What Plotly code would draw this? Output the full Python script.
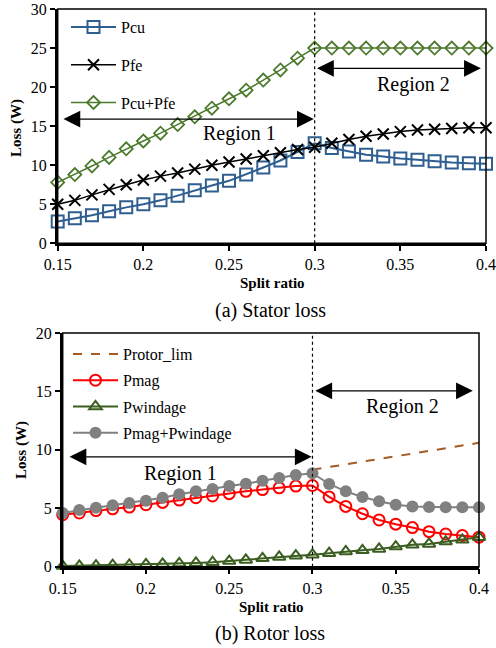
import plotly.graph_objects as go

# ---------------- data ----------------
split_ratio = [0.15, 0.16, 0.17, 0.18, 0.19, 0.20, 0.21, 0.22, 0.23, 0.24, 0.25, 0.26, 0.27,
               0.28, 0.29, 0.30, 0.31, 0.32, 0.33, 0.34, 0.35, 0.36, 0.37, 0.38, 0.39, 0.40]

# (a) stator loss
pcu = [2.8, 3.2, 3.6, 4.1, 4.6, 5.0, 5.5, 6.1, 6.8, 7.4, 8.0, 8.8, 9.7,
       10.6, 11.7, 12.8, 12.2, 11.75, 11.35, 11.1, 10.85, 10.7, 10.5, 10.35, 10.25, 10.2]
pfe = [5.0, 5.5, 6.2, 6.9, 7.5, 8.1, 8.6, 9.0, 9.5, 10.0, 10.4, 10.8, 11.2,
       11.6, 12.0, 12.3, 12.8, 13.3, 13.7, 14.0, 14.3, 14.5, 14.6, 14.7, 14.8, 14.8]
pcu_pfe = [7.8, 8.8, 9.9, 11.0, 12.1, 13.1, 14.1, 15.2, 16.2, 17.3, 18.5, 19.6, 20.9,
           22.2, 23.7, 25.0, 25.0, 25.0, 25.0, 25.0, 25.0, 25.0, 25.0, 25.0, 25.0, 25.0]

# (b) rotor loss
pmag = [4.45, 4.6, 4.8, 4.95, 5.1, 5.3, 5.5, 5.7, 5.9, 6.05, 6.25, 6.45, 6.6,
        6.75, 6.9, 6.95, 5.97, 5.16, 4.53, 4.0, 3.64, 3.35, 3.0, 2.8, 2.67, 2.53]
pwindage = [0.05, 0.08, 0.1, 0.13, 0.16, 0.2, 0.24, 0.28, 0.32, 0.38, 0.48, 0.58, 0.72,
            0.84, 0.94, 1.03, 1.15, 1.3, 1.4, 1.52, 1.72, 1.87, 1.95, 2.15, 2.3, 2.53]
pmag_pwindage = [4.6, 4.85, 5.05, 5.25, 5.45, 5.65, 5.9, 6.2, 6.45, 6.65, 6.9, 7.1, 7.35,
                 7.6, 7.85, 8.0, 7.08, 6.45, 5.97, 5.6, 5.3, 5.16, 5.1, 5.08, 5.08, 5.08]
protor_x = [0.30, 0.35, 0.40]
protor_lim = [8.3, 9.45, 10.6]

x_ticks = [0.15, 0.2, 0.25, 0.3, 0.35, 0.4]
x_ticktext = ["0.15", "0.2", "0.25", "0.3", "0.35", "0.4"]
y1_ticks = [0, 5, 10, 15, 20, 25, 30]
y2_ticks = [0, 5, 10, 15, 20]

FONT = "Liberation Serif"
BLUE = "#2F5F90"
GREEN = "#4C7A2C"
RED = "#FF0000"
DKGREEN = "#3B5E20"
GRAY = "#808080"
BROWN = "#A65A24"

W, H = 496, 648
def px(v):
    return v / W
def py(v):
    return 1 - v / H

fig = go.Figure()

# ---- top chart ----
fig.add_trace(go.Scatter(x=split_ratio, y=pcu, name="Pcu", mode="lines+markers",
                         xaxis="x", yaxis="y", legend="legend", legendgroup="a1", cliponaxis=False,
                         line=dict(color=BLUE, width=2),
                         marker=dict(symbol="square-open", size=12, color=BLUE, line=dict(width=2))))
fig.add_trace(go.Scatter(x=split_ratio, y=pfe, name="Pfe", mode="lines+markers",
                         xaxis="x", yaxis="y", legend="legend", legendgroup="a2", cliponaxis=False,
                         line=dict(color="black", width=1.5),
                         marker=dict(symbol="x-thin-open", size=11, color="black", line=dict(width=2, color="black"))))
fig.add_trace(go.Scatter(x=split_ratio, y=pcu_pfe, name="Pcu+Pfe", mode="lines+markers",
                         xaxis="x", yaxis="y", legend="legend", legendgroup="a3", cliponaxis=False,
                         line=dict(color=GREEN, width=1.5),
                         marker=dict(symbol="diamond-open", size=10, color=GREEN, line=dict(width=1.8))))

# ---- bottom chart ----
fig.add_trace(go.Scatter(x=protor_x, y=protor_lim, name="Protor_lim", mode="lines",
                         xaxis="x2", yaxis="y2", legend="legend2", legendgroup="b1", cliponaxis=False,
                         line=dict(color=BROWN, width=2, dash="dash")))
fig.add_trace(go.Scatter(x=split_ratio, y=pmag, name="Pmag", mode="lines+markers",
                         xaxis="x2", yaxis="y2", legend="legend2", legendgroup="b2", cliponaxis=False,
                         line=dict(color=RED, width=2),
                         marker=dict(symbol="circle-open", size=11, color=RED, line=dict(width=2))))
fig.add_trace(go.Scatter(x=split_ratio, y=pwindage, name="Pwindage", mode="lines+markers",
                         xaxis="x2", yaxis="y2", legend="legend2", legendgroup="b3", cliponaxis=False,
                         line=dict(color=DKGREEN, width=2),
                         marker=dict(symbol="triangle-up-open", size=11, color=DKGREEN, line=dict(width=2))))
fig.add_trace(go.Scatter(x=split_ratio, y=pmag_pwindage, name="Pmag+Pwindage", mode="lines+markers",
                         xaxis="x2", yaxis="y2", legend="legend2", legendgroup="b4", cliponaxis=False,
                         line=dict(color=GRAY, width=2),
                         marker=dict(symbol="circle", size=12, color=GRAY)))

axis_common = dict(showgrid=False, zeroline=False, showline=True, linecolor="black", linewidth=2.5,
                   ticks="outside", ticklen=5, tickwidth=1.5, tickcolor="black", automargin=False,
                   ticklabeloverflow="allow",
                   tickfont=dict(family=FONT, size=16, color="black"))

fig.update_layout(
    width=W, height=H,
    margin=dict(l=0, r=0, t=0, b=0, autoexpand=False),
    paper_bgcolor="white", plot_bgcolor="white",
    font=dict(family=FONT, color="black"),
    xaxis=dict(domain=[px(57.7), px(486)], anchor="y", range=[0.15, 0.4],
               tickvals=x_ticks, ticktext=x_ticktext, **axis_common),
    yaxis=dict(domain=[py(243.3), py(9)], anchor="x", range=[0, 30],
               tickvals=y1_ticks, **axis_common),
    xaxis2=dict(domain=[px(62.7), px(479)], anchor="y2", range=[0.15, 0.4],
                tickvals=x_ticks, ticktext=x_ticktext, **axis_common),
    yaxis2=dict(domain=[py(566.7), py(333)], anchor="x2", range=[0, 20],
                tickvals=y2_ticks, **axis_common),
    legend=dict(x=px(66), y=py(10), xanchor="left", yanchor="top", bgcolor="rgba(0,0,0,0)",
                font=dict(family=FONT, size=16, color="black"), tracegroupgap=14, itemwidth=45),
    legend2=dict(x=px(68), y=py(337), xanchor="left", yanchor="top", bgcolor="rgba(0,0,0,0)",
                 font=dict(family=FONT, size=16, color="black"), tracegroupgap=2.5, itemwidth=45),
)

shapes = [
    dict(type="rect", xref="x domain", yref="y domain", x0=0, x1=1, y0=0, y1=1,
         line=dict(color="black", width=1.5), layer="above"),
    dict(type="rect", xref="x2 domain", yref="y2 domain", x0=0, x1=1, y0=0, y1=1,
         line=dict(color="black", width=1.5), layer="above"),
    dict(type="line", xref="x", yref="y", x0=0.3, x1=0.3, y0=0, y1=30,
         line=dict(color="black", width=1.2, dash="dot")),
    dict(type="line", xref="x2", yref="y2", x0=0.3, x1=0.3, y0=0, y1=20,
         line=dict(color="black", width=1.2, dash="dot")),
]
fig.update_layout(shapes=shapes)

def arrow(xr, yr, x0, x1, y):
    return dict(xref=xr, yref=yr, axref=xr, ayref=yr, x=x1, y=y, ax=x0, ay=y, text="",
                showarrow=True, arrowside="end+start", arrowhead=2, startarrowhead=2,
                arrowsize=2.4, startarrowsize=2.4, arrowwidth=1.4, arrowcolor="black")

def label(xr, yr, x, y, t):
    return dict(xref=xr, yref=yr, x=x, y=y, text=t, showarrow=False,
                font=dict(family=FONT, size=20, color="black"), xanchor="center", yanchor="middle")

annotations = [
    arrow("x", "y", 0.1525, 0.2995, 15.9),
    arrow("x", "y", 0.3005, 0.397, 22.4),
    label("x", "y", 0.256, 14.0, "Region 1"),
    label("x", "y", 0.3577, 20.35, "Region 2"),
    arrow("x2", "y2", 0.1532, 0.2995, 9.4),
    arrow("x2", "y2", 0.3008, 0.3963, 15.05),
    label("x2", "y2", 0.2209, 7.97, "Region 1"),
    label("x2", "y2", 0.3541, 13.67, "Region 2"),
    # axis titles
    dict(xref="paper", yref="paper", x=px(16), y=py(128), text="<b>Loss (W)</b>", textangle=-90,
         showarrow=False, font=dict(family=FONT, size=15, color="black"), xanchor="center", yanchor="middle"),
    dict(xref="paper", yref="paper", x=px(272), y=py(283), text="<b>Split ratio</b>",
         showarrow=False, font=dict(family=FONT, size=15, color="black"), xanchor="center", yanchor="middle"),
    dict(xref="paper", yref="paper", x=px(21), y=py(450), text="<b>Loss (W)</b>", textangle=-90,
         showarrow=False, font=dict(family=FONT, size=15, color="black"), xanchor="center", yanchor="middle"),
    dict(xref="paper", yref="paper", x=px(271), y=py(607), text="<b>Split ratio</b>",
         showarrow=False, font=dict(family=FONT, size=15, color="black"), xanchor="center", yanchor="middle"),
    # captions
    dict(xref="paper", yref="paper", x=px(270), y=py(310), text="(a) Stator loss",
         showarrow=False, font=dict(family=FONT, size=20, color="black"), xanchor="center", yanchor="middle"),
    dict(xref="paper", yref="paper", x=px(270), y=py(633), text="(b) Rotor loss",
         showarrow=False, font=dict(family=FONT, size=20, color="black"), xanchor="center", yanchor="middle"),
]
fig.update_layout(annotations=annotations)

# remove the default 8px page margin so the figure fills the window exactly
fig.write_html("out.html", config={"displayModeBar": False},
               post_script="document.body.style.margin='0';")
